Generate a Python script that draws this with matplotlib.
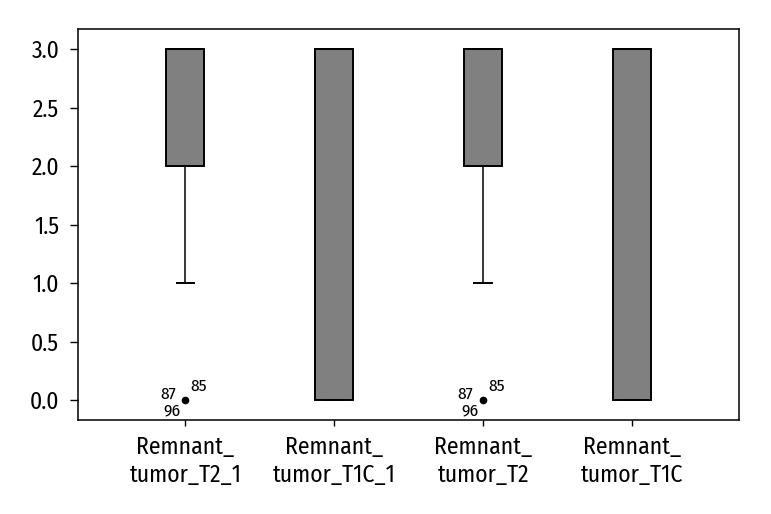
import matplotlib
matplotlib.use("Agg")
import matplotlib.pyplot as plt
from matplotlib import font_manager

names = {f.name for f in font_manager.fontManager.ttflist}
fam = "Fira Sans Condensed" if "Fira Sans Condensed" in names else "DejaVu Sans"
plt.rcParams['font.family'] = [fam, 'DejaVu Sans']

categories = ["Remnant_\ntumor_T2_1", "Remnant_\ntumor_T1C_1", "Remnant_\ntumor_T2", "Remnant_\ntumor_T1C"]
q1 = [2.0, 0.0, 2.0, 0.0]
med = [3.0, 3.0, 3.0, 3.0]
q3 = [3.0, 3.0, 3.0, 3.0]
whislo = [1.0, 0.0, 1.0, 0.0]
whishi = [3.0, 3.0, 3.0, 3.0]
fliers = [[0.0], [], [0.0], []]
flier_labels = [["87", "85", "96"], [], ["87", "85", "96"], []]
yticks = [0.0, 0.5, 1.0, 1.5, 2.0, 2.5, 3.0]

fig = plt.figure(figsize=(7.71, 5.14), dpi=100)
ax = fig.add_axes([78/771, 1-420/514, (739-78)/771, (420-29.3)/514])

stats = []
for i in range(len(categories)):
    stats.append(dict(q1=q1[i], med=med[i], q3=q3[i], whislo=whislo[i],
                      whishi=whishi[i], fliers=fliers[i]))

positions = list(range(1, len(categories)+1))
ax.bxp(stats, positions=positions, widths=0.255, patch_artist=True,
       showcaps=True, capwidths=0.12,
       boxprops=dict(facecolor="#808080", edgecolor="black", linewidth=1.4),
       medianprops=dict(color="black", linewidth=1.4),
       whiskerprops=dict(color="black", linewidth=1.1),
       capprops=dict(color="black", linewidth=1.4),
       flierprops=dict(marker="o", markerfacecolor="black", markeredgecolor="black",
                       markersize=4.5))

offsets = [(-12.5, 4), (9.5, 10), (-9.5, -7.5)]
for i, labs in enumerate(flier_labels):
    for j, lab in enumerate(labs):
        ax.annotate(lab, (positions[i], fliers[i][0]), xytext=offsets[j],
                    textcoords="offset points", ha="center", va="center", fontsize=12.5)

ax.set_xlim(0.278, 4.72)
ax.set_ylim(-0.171, 3.171)
ax.set_yticks(yticks)
ax.set_yticklabels([f"{v:.1f}" for v in yticks])
ax.set_xticks(positions)
ax.set_xticklabels(categories, linespacing=1.3)
ax.tick_params(axis="both", labelsize=17, width=1, color="black")
ax.tick_params(axis="x", length=4, pad=7)
ax.tick_params(axis="y", length=6, pad=7.5)
for s in ax.spines.values():
    s.set_linewidth(1.1)

fig.savefig("out.png", dpi=100)
